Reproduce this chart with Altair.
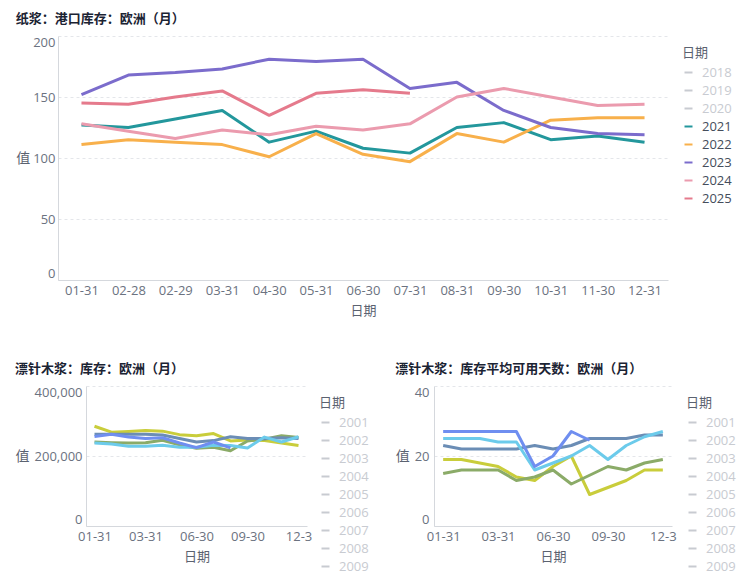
import altair as alt
import pandas as pd

# ---------------- data ----------------
DATES = ["01-31", "02-28", "02-29", "03-31", "04-30", "05-31", "06-30",
         "07-31", "08-31", "09-30", "10-31", "11-30", "12-31"]

# 纸浆：港口库存：欧洲（月）
TOP_YEARS = ["2018", "2019", "2020", "2021", "2022", "2023", "2024", "2025"]
TOP_COLORS = ["#c8cbd1", "#c8cbd1", "#c8cbd1", "#23979c", "#f8b04b",
              "#7b6ccc", "#eb9bae", "#e57a8c"]
PULP_2021 = [127, 125, 132, 139, 113, 122, 108, 104, 125, 129, 115, 118, 113]
PULP_2022 = [111, 115, 113, 111, 101, 120, 103, 97, 120, 113, 131, 133, 133]
PULP_2023 = [152, 168, 170, 173, 181, 179, 181, 157, 162, 139, 125, 120, 119]
PULP_2024 = [128, 122, 116, 123, 119, 126, 123, 128, 150, 157, 150, 143, 144]
PULP_2025 = [145, 144, 150, 155, 135, 153, 156, 153]

# 漂针木浆：库存：欧洲（月）
BOT_YEARS = [str(y) for y in range(2001, 2026)]
BOT_LEGEND_SHOWN = BOT_YEARS[:9]   # the rest of the list runs off the page
BOT_ACTIVE = ["2021", "2022", "2023", "2024", "2025"]
BOT_ACTIVE_COLORS = ["#c9cd3b", "#8bab68", "#6b8db5", "#6ccbeb", "#6f8ef0"]
STOCK_2021 = [285000, 268000, 270000, 273000, 271000, 261000, 258000, 264000, 243000, 246000, 244000, 237000, 230000]
STOCK_2022 = [240000, 238000, 237000, 238000, 245000, 232000, 222000, 225000, 215000, 243000, 248000, 258000, 253000]
STOCK_2023 = [262000, 262000, 262000, 262000, 260000, 250000, 240000, 244000, 255000, 250000, 250000, 252000, 250000]
STOCK_2024 = [237000, 234000, 228000, 228000, 231000, 225000, 225000, 231000, 230000, 223000, 254000, 240000, 255000]
STOCK_2025 = [256000, 262000, 254000, 250000, 252000, 237000, 224000, 240000, 223000]

# 漂针木浆：库存平均可用天数：欧洲（月）
DAYS_2021 = [19, 19, 18, 17, 14, 13, 17, 20, 9, 11, 13, 16, 16]
DAYS_2022 = [15, 16, 16, 16, 13, 14, 16, 12, 14.5, 17, 16, 18, 19]
DAYS_2023 = [23, 22, 22, 22, 22, 23, 22, 23, 25, 25, 25, 26, 26]
DAYS_2024 = [25, 25, 25, 24, 24, 16, 18, 20, 23, 19, 23, 25.5, 27]
DAYS_2025 = [27, 27, 27, 27, 27, 17, 20, 27, 24.5]


def long_df(series):
    rows = []
    for year, vals in series:
        for d, v in zip(DATES, vals):
            rows.append({"日期": d, "年份": year, "值": v})
    return pd.DataFrame(rows)


top_df = long_df([("2021", PULP_2021), ("2022", PULP_2022), ("2023", PULP_2023),
                  ("2024", PULP_2024), ("2025", PULP_2025)])
stock_df = long_df([("2021", STOCK_2021), ("2022", STOCK_2022), ("2023", STOCK_2023),
                    ("2024", STOCK_2024), ("2025", STOCK_2025)])
days_df = long_df([("2021", DAYS_2021), ("2022", DAYS_2022), ("2023", DAYS_2023),
                   ("2024", DAYS_2024), ("2025", DAYS_2025)])

FONT = "'Open Sans', 'Noto Sans CJK SC', sans-serif"
CJK = "'Noto Sans CJK SC', sans-serif"
AXIS_LABEL = "#6b7280"
AXIS_TITLE = "#5b6270"
DOMAIN = "#d5d8dd"
GRID = "#e4e6ea"


def make_chart(df, title, years, colors, active, legend_values, width, height,
               ydomain, yvalues, xvalues=None, truncate_last=False, shift=0,
               y_title_pad=5, y_label_pad=5, legend_gap=14):
    """shift: blank space (px) kept on the left of the plot, the y axis moves with it."""
    active_list = ",".join("'%s'" % a for a in active)
    label_color_expr = ("indexof([%s], datum.label) >= 0 ? '#454d5b' : '#c8cbd1'" % active_list)
    x_kwargs = dict(title="日期", labelAngle=0, grid=False, ticks=False, tickSize=0,
                    domainColor=DOMAIN, labelColor=AXIS_LABEL, labelFontSize=13,
                    labelFont=FONT, labelPadding=4, titleFont=CJK, titleFontSize=13,
                    titleColor=AXIS_TITLE, titleFontWeight="normal", titlePadding=7)
    if xvalues is not None:
        x_kwargs["values"] = xvalues
    if truncate_last:
        x_kwargs["labelExpr"] = "datum.label == '12-31' ? '12-3' : datum.label"
    if shift:
        x_kwargs["titleX"] = shift + width / 2
    total_w = width + shift
    x_scale = alt.Scale(type="point", padding=0.5, domain=DATES, range=[shift, total_w])
    y_axis_kwargs = dict(title="值", titleAngle=0, titleAlign="right",
                         titleBaseline="middle", titlePadding=y_title_pad,
                         titleFont=CJK, titleFontSize=14, titleColor=AXIS_TITLE,
                         titleFontWeight="normal",
                         values=yvalues, format=",.0f", labelFlush=True,
                         labelPadding=y_label_pad, labelFont=FONT, labelFontSize=13,
                         labelColor=AXIS_LABEL, ticks=False, tickSize=0,
                         grid=True, gridDash=[3, 3], gridColor=GRID,
                         domainColor=DOMAIN)
    if shift:
        y_axis_kwargs["offset"] = -shift
    return alt.Chart(df).mark_line(strokeWidth=3, strokeJoin="round").encode(
        x=alt.X("日期:N", sort=DATES, scale=x_scale, axis=alt.Axis(**x_kwargs)),
        y=alt.Y("值:Q", scale=alt.Scale(domain=ydomain, nice=False),
                axis=alt.Axis(**y_axis_kwargs)),
        color=alt.Color("年份:N", scale=alt.Scale(domain=years, range=colors),
                        legend=alt.Legend(title="日期", orient="none",
                                          legendX=total_w + legend_gap, legendY=11, padding=0,
                                          symbolType="stroke",
                                          symbolSize=64, symbolStrokeWidth=2,
                                          labelFont=FONT, labelFontSize=13,
                                          labelColor={"expr": label_color_expr},
                                          labelOffset=7, titleFont=CJK, titleFontSize=13,
                                          titleColor=AXIS_TITLE, titleFontWeight="normal",
                                          titlePadding=6, rowPadding=4,
                                          values=legend_values)),
    ).properties(
        width=total_w, height=height,
        title=alt.TitleParams(title, anchor="start", font=CJK, fontSize=13,
                              fontWeight="bold", color="#1b2333", offset=10),
    )


top = make_chart(top_df, "纸浆：港口库存：欧洲（月）", TOP_YEARS, TOP_COLORS,
                 ["2021", "2022", "2023", "2024", "2025"], TOP_YEARS, 610, 244,
                 [0, 200], [0, 50, 100, 150, 200], y_title_pad=3, y_label_pad=3)

bot_colors = ["#c8cbd1"] * (len(BOT_YEARS) - len(BOT_ACTIVE)) + BOT_ACTIVE_COLORS
quarter_ticks = ["01-31", "03-31", "06-30", "09-30", "12-31"]
left = make_chart(stock_df, "漂针木浆：库存：欧洲（月）", BOT_YEARS, bot_colors, BOT_ACTIVE,
                  BOT_LEGEND_SHOWN, 221, 140, [0, 400000], [0, 200000, 400000],
                  xvalues=quarter_ticks, truncate_last=True, shift=28,
                  y_title_pad=5, y_label_pad=4, legend_gap=12)
right = make_chart(days_df, "漂针木浆：库存平均可用天数：欧洲（月）", BOT_YEARS, bot_colors,
                   BOT_ACTIVE, BOT_LEGEND_SHOWN, 238, 140, [0, 40], [0, 20, 40],
                   xvalues=quarter_ticks, truncate_last=True)

bottom_row = alt.hconcat(left, right, spacing=26).resolve_scale(color="independent")

chart = alt.vconcat(
    top, bottom_row, spacing=46,
).resolve_scale(color="independent").properties(
    padding={"left": 7, "top": 5, "right": 5, "bottom": 0},
).configure_view(stroke=None)

chart.save("out.html", embed_options={"renderer": "svg", "actions": False})
